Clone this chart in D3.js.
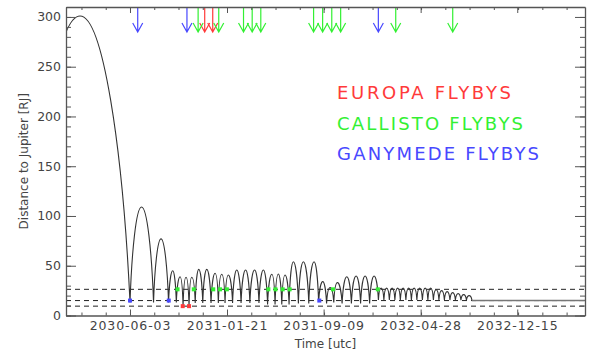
<!DOCTYPE html>
<html>
<head>
<meta charset="utf-8">
<script src="https://cdn.jsdelivr.net/npm/d3@7"></script>
<style>
  body { margin: 0; background: #fff; }
  svg { display: block; }
  text { font-family: "DejaVu Sans", sans-serif; }
</style>
</head>
<body>
<svg id="chart" width="595" height="352"></svg>
<script>
// all times are days counted from 2030-01-01 (utc)
const startDate = Date.UTC(2030, 0, 1);
const axisEndDay = 1241;

// perijoves (distance minima) and apojoves (maxima), alternating peri, apo, peri ...
const periDay = [-86.1, 153.1, 209.3, 245.2, 263.8, 279.9, 294.2, 309.0, 327.0, 346.8,
  364.3, 380.3, 398.3, 418.6, 439.7, 461.4, 482.0, 499.9, 516.0, 533.4,
  555.7, 580.5, 604.0, 623.1, 640.3, 660.2, 682.4, 704.4, 726.0, 747.0,
  760.1, 773.2, 786.4, 799.5, 812.7, 825.9, 839.0, 852.2, 865.3, 878.5,
  891.7, 904.8, 918.0, 931.1, 944.3, 957.5, 970.6];
const periDist = [14, 13, 13, 13, 13, 9, 9, 12.5, 12.5, 12.5,
  12.5, 12.5, 12.5, 12.5, 12.5, 12.5, 11, 11, 11, 11,
  12, 12, 13.5, 12, 13, 12, 12, 12, 12, 15.5,
  15.5, 15.5, 15.5, 15.5, 15.5, 15.5, 15.5, 15.5, 15.5, 15.5,
  15.5, 15.5, 15.5, 15.5, 15.5, 15.5, 15.5];
const apoDay = [33.5, 180.6, 227.2, 255.2, 272.7, 287.0, 300.7, 317.4, 336.6, 356.4,
  372.4, 388.2, 408.3, 429.4, 450.9, 472.0, 492.1, 507.8, 523.8, 543.7,
  567.6, 593.2, 614.0, 631.5, 649.0, 671.4, 693.7, 715.2, 736.7,
  753.5, 766.6, 779.8, 793.0, 806.1, 819.3, 832.4, 845.6, 858.8, 871.9,
  885.1, 898.2, 911.4, 924.6, 937.7, 950.9, 964.0];
const apoDist = [301, 109, 77, 45, 39, 38.5, 38.5, 46.4, 46.4, 42.4,
  41.4, 40.7, 45.7, 45.7, 45.7, 45.7, 41.4, 41.7, 40.7, 54,
  54, 54, 34, 28, 33, 39, 39.7, 39.7, 39.7,
  27.5, 27.5, 27.5, 27.5, 27.5, 27.5, 27.5, 27.5, 27.5, 27.5,
  26, 25, 24, 23, 22, 21, 20];

// final orbit around Ganymede
const finalOrbitStart = 970.6;
const finalOrbitDist = 15;

// span of the trajectory file (used for the arrows at the top)
const trajSpan = [18.2, 994.4];

// moons: orbit radius [RJ] and flyby times
const moonNames = ["EUROPA", "CALLISTO", "GANYMEDE"];
const moonColors = ["#ff3a3a", "#33f033", "#4848ff"];
const moonDist = [9.4, 26.3, 15.0];
const europaFlybys = [279.1, 294.2];
const callistoFlybys = [266.7, 305.5, 352.1, 368.4, 384.6, 483.9, 500.9, 518.1, 534.8, 638.4, 745.6];
const ganymedeFlybys = [153.1, 245.7, 605.7];

const xTickLabels = ["2030-06-03", "2031-01-21", "2031-09-09", "2032-04-28", "2032-12-15"];
const yTicks = [0, 50, 100, 150, 200, 250, 300];

const toDate = d => new Date(startDate + d * 864e5);

const svg = d3.select("#chart");
const margin = {top: 7, right: 10, bottom: 36.5, left: 66};
const width = +svg.attr("width") - margin.left - margin.right;
const height = +svg.attr("height") - margin.top - margin.bottom;
const axisColor = "#555";
const textColor = "#444";

const x = d3.scaleUtc().domain([toDate(0), toDate(axisEndDay)]).range([0, width]);
const xArrow = d3.scaleUtc().domain(trajSpan.map(toDate)).range([0, width]);
const y = d3.scaleLinear().domain([0, 310]).range([height, 0]);

const g = svg.append("g").attr("transform", "translate(" + margin.left + "," + margin.top + ")");

svg.append("defs").append("clipPath").attr("id", "plotClip")
  .append("rect").attr("width", width).attr("height", height);

// arch shaped orbit segments: round at apojove, sharp at perijove
function archCurve(context) {
  let pts = [];
  return {
    areaStart() {}, areaEnd() {},
    lineStart() { pts = []; },
    point(px, py) { pts.push([px, py]); },
    lineEnd() {
      if (!pts.length) return;
      context.moveTo(pts[0][0], pts[0][1]);
      for (let i = 1; i < pts.length; i++) {
        const [x0, y0] = pts[i - 1], [x1, y1] = pts[i];
        const dx = x1 - x0, dy = y1 - y0;
        if (dy < 0) {
          // going up to an apojove
          context.bezierCurveTo(x0 + 0.15 * dx, y0 + 0.55 * dy, x0 + 0.55 * dx, y1, x1, y1);
        } else {
          // coming down to a perijove
          context.bezierCurveTo(x0 + 0.45 * dx, y0, x0 + 0.85 * dx, y0 + 0.45 * dy, x1, y1);
        }
      }
    }
  };
}

const extrema = [];
periDay.forEach((d, i) => {
  extrema.push([d, periDist[i]]);
  if (i < apoDay.length) extrema.push([apoDay[i], apoDist[i]]);
});

// dashed moon orbit lines
g.selectAll(".moonline")
  .data(moonDist)
  .enter().append("line")
    .attr("x1", 0).attr("x2", width)
    .attr("y1", d => y(d)).attr("y2", d => y(d))
    .attr("stroke", "#222").attr("stroke-width", 1)
    .attr("stroke-dasharray", "5,4");

const plot = g.append("g").attr("clip-path", "url(#plotClip)");

const line = d3.line()
  .x(d => x(toDate(d[0])))
  .y(d => y(d[1]));

plot.append("path")
  .datum(extrema)
  .attr("d", line.curve(archCurve))
  .attr("fill", "none").attr("stroke", "#333").attr("stroke-width", 1.1);

plot.append("path")
  .datum([[finalOrbitStart, finalOrbitDist], [axisEndDay, finalOrbitDist]])
  .attr("d", d3.line().x(d => x(toDate(d[0]))).y(d => y(d[1])))
  .attr("fill", "none").attr("stroke", "#777").attr("stroke-width", 1.6);

// flyby markers
const flybys = [];
[europaFlybys, callistoFlybys, ganymedeFlybys].forEach((list, m) => {
  list.forEach(d => flybys.push({day: d, moon: m}));
});

g.selectAll(".dot")
  .data(flybys)
  .enter().append("rect")
    .attr("x", d => x(toDate(d.day)) - 2)
    .attr("y", d => y(moonDist[d.moon]) - 2)
    .attr("width", 4).attr("height", 4)
    .attr("fill", d => moonColors[d.moon]);

g.selectAll(".arrow")
  .data(flybys)
  .enter().append("path")
    .attr("d", d => {
      const ax = xArrow(toDate(d.day));
      return "M" + ax + ",0V25M" + (ax - 5) + ",16L" + ax + ",25L" + (ax + 5) + ",16";
    })
    .attr("fill", "none")
    .attr("stroke", d => moonColors[d.moon])
    .attr("stroke-width", 1.2);

// axes
const majorDates = xTickLabels.map(d3.utcParse("%Y-%m-%d"));
const step = (majorDates[1] - majorDates[0]) / 4;
const minorDates = [];
for (let t = +majorDates[0] - step; t > +x.domain()[0]; t -= step) minorDates.push(new Date(t));
for (let t = +majorDates[0]; t < +x.domain()[1]; t += step) minorDates.push(new Date(t));

function styleAxis(sel) {
  sel.selectAll("path, line").attr("stroke", axisColor);
  sel.select(".domain").attr("stroke-width", 1.3);
  sel.selectAll("text").attr("fill", textColor).attr("font-size", 12.5)
    .attr("font-family", "DejaVu Sans, sans-serif");
}

g.append("g").attr("transform", "translate(0," + height + ")")
  .call(d3.axisBottom(x).tickValues(majorDates).tickFormat(d3.utcFormat("%Y-%m-%d"))
    .tickSizeInner(-6).tickSizeOuter(0).tickPadding(6))
  .call(styleAxis)
  .call(s => s.selectAll("text").attr("letter-spacing", 0.9));
g.append("g").attr("transform", "translate(0," + height + ")")
  .call(d3.axisBottom(x).tickValues(minorDates).tickFormat("").tickSize(-3))
  .call(s => s.select(".domain").remove()).call(styleAxis);
g.append("g")
  .call(d3.axisTop(x).tickValues(majorDates).tickFormat("").tickSizeInner(-6).tickSizeOuter(0))
  .call(styleAxis);
g.append("g")
  .call(d3.axisTop(x).tickValues(minorDates).tickFormat("").tickSize(-3))
  .call(s => s.select(".domain").remove()).call(styleAxis);

g.append("g")
  .call(d3.axisLeft(y).tickValues(yTicks).tickSizeInner(-10).tickSizeOuter(0).tickPadding(5))
  .call(styleAxis);
g.append("g")
  .call(d3.axisLeft(y).ticks(31).tickFormat("").tickSize(-5))
  .call(s => s.select(".domain").remove()).call(styleAxis);
g.append("g").attr("transform", "translate(" + width + ",0)")
  .call(d3.axisRight(y).tickValues(yTicks).tickFormat("").tickSizeInner(-10).tickSizeOuter(0))
  .call(styleAxis);
g.append("g").attr("transform", "translate(" + width + ",0)")
  .call(d3.axisRight(y).ticks(31).tickFormat("").tickSize(-5))
  .call(s => s.select(".domain").remove()).call(styleAxis);

// axis titles
svg.append("text")
  .attr("transform", "translate(24," + (margin.top + height / 2) + ") rotate(-90)")
  .attr("text-anchor", "middle").attr("dy", "0.35em")
  .attr("font-size", 12).attr("fill", textColor)
  .text("Distance to Jupiter [RJ]");
svg.append("text")
  .attr("x", margin.left + width / 2).attr("y", 348)
  .attr("text-anchor", "middle")
  .attr("font-size", 12).attr("fill", textColor)
  .text("Time [utc]");

// legend
const legendWidths = [174, 186, 202];
g.selectAll(".legend")
  .data(moonNames)
  .enter().append("text")
    .attr("x", 271)
    .attr("y", (d, i) => 92 + i * 30.5)
    .attr("font-size", 18)
    .attr("textLength", (d, i) => legendWidths[i])
    .attr("lengthAdjust", "spacing")
    .attr("fill", (d, i) => moonColors[i])
    .text(d => d + " FLYBYS");
</script>
</body>
</html>
